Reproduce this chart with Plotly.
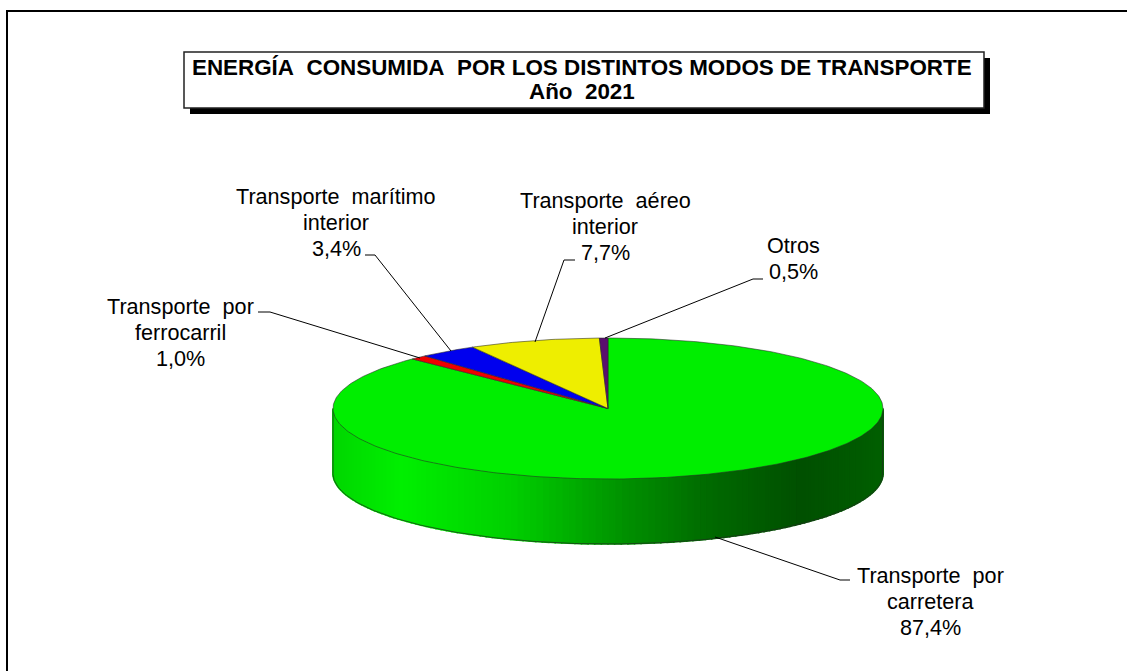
import math
import plotly.graph_objects as go

# ---- data ----
categories = ["Transporte por carretera", "Transporte por ferrocarril",
              "Transporte marítimo interior", "Transporte aéreo interior", "Otros"]
values = [87.4, 1.0, 3.4, 7.7, 0.5]
label_lines = [["Transporte\u00a0 por", "carretera"], ["Transporte\u00a0 por", "ferrocarril"],
               ["Transporte\u00a0 marítimo", "interior"], ["Transporte\u00a0 aéreo", "interior"], ["Otros"]]
title_lines = ["ENERGÍA\u00a0 CONSUMIDA\u00a0 POR LOS DISTINTOS MODOS DE TRANSPORTE", "Año\u00a0 2021"]

# ---- style ----
slice_colors = ["#00EE00", "#EE0000", "#0000EE", "#EEEE00", "#5A0F6E"]
FONT = "Liberation Sans, Arial, sans-serif"
CX, CY, RX, RY, DEPTH = 608, 408.5, 275, 70.5, 65
LABEL_SIZE = 21.6
LINE_STEP = 26.2
# centre x and first-line baseline of each label
label_pos = [(930, 582), (180, 313), (336, 203), (605, 207), (793, 252)]
leaders = [[(850, 580), (840, 580), (715, 537)],
           [(258, 312), (270, 312), (420, 358)],
           [(365, 255), (375, 255), (451, 351)],
           [(575, 260), (564, 260), (535, 342)],
           [(763, 279), (753, 279), (605, 338)]]
side_stops = [(333, (0, 215, 0)), (400, (0, 240, 0)), (510, (0, 208, 0)), (626, (0, 144, 0)),
              (703, (0, 108, 0)), (800, (0, 80, 0)), (883, (0, 96, 0))]


def side_color(x):
    for (x0, c0), (x1, c1) in zip(side_stops, side_stops[1:]):
        if x <= x1:
            t = max(0, (x - x0) / (x1 - x0))
            return "rgb(%d,%d,%d)" % tuple(a + (b - a) * t for a, b in zip(c0, c1))
    return "rgb(%d,%d,%d)" % side_stops[-1][1]


def pt(theta, dz=0.0):
    # theta measured clockwise from the top of the pie
    return CX + RX * math.sin(theta), CY - RY * math.cos(theta) + dz


fig = go.Figure()

# rim of the disc: thin strips round the front half
N = 130
for i in range(N):
    t0 = math.pi / 2 + math.pi * i / N
    t1 = math.pi / 2 + math.pi * (i + 1) / N
    p0, p1 = pt(t0), pt(t1)
    q0, q1 = pt(t0, DEPTH), pt(t1, DEPTH)
    col = side_color((p0[0] + p1[0]) / 2)
    fig.add_trace(go.Scatter(x=[p0[0], p1[0], q1[0], q0[0], p0[0]],
                             y=[p0[1], p1[1], q1[1], q0[1], p0[1]],
                             mode="lines", fill="toself", fillcolor=col,
                             line=dict(color=col, width=1.6), hoverinfo="skip", showlegend=False))

# outer outline of the rim
ts = [math.pi / 2 + math.pi * i / 180 for i in range(181)]
rim = [pt(math.pi / 2)] + [pt(t, DEPTH) for t in ts] + [pt(3 * math.pi / 2)]
fig.add_trace(go.Scatter(x=[p[0] for p in rim], y=[p[1] for p in rim], mode="lines",
                         line=dict(color="rgba(30,50,30,0.75)", width=1), hoverinfo="skip", showlegend=False))

# top face: one wedge per value, clockwise from twelve o'clock
total = sum(values)
cum = 0.0
for name, v, col in zip(categories, values, slice_colors):
    a0 = 2 * math.pi * cum / total
    a1 = 2 * math.pi * (cum + v) / total
    cum += v
    n = max(3, int(v * 4))
    arc = [pt(a0 + (a1 - a0) * k / n) for k in range(n + 1)]
    poly = [(CX, CY)] + arc + [(CX, CY)]
    fig.add_trace(go.Scatter(x=[p[0] for p in poly], y=[p[1] for p in poly], mode="lines",
                             fill="toself", fillcolor=col, name=name,
                             line=dict(color="rgba(40,40,40,0.7)", width=0.8), showlegend=False))

# leader lines
for pts in leaders:
    fig.add_trace(go.Scatter(x=[p[0] for p in pts], y=[p[1] for p in pts], mode="lines",
                             line=dict(color="#000000", width=1), hoverinfo="skip", showlegend=False))

# data labels, one annotation per text line so that the line step can be set
annotations = []
for lines, v, (lx, base) in zip(label_lines, values, label_pos):
    for k, line in enumerate(lines + [f"{v:.1f}%".replace(".", ",")]):
        annotations.append(dict(x=lx, y=base - 7 + k * LINE_STEP, xref="x", yref="y", text=line, showarrow=False,
                                xanchor="center", yanchor="middle", align="center",
                                font=dict(family=FONT, size=LABEL_SIZE, color="#000000")))
for line, y in zip(title_lines, (67, 91)):
    annotations.append(dict(x=582, y=y, xref="x", yref="y", text="<b>" + line + "</b>",
                            showarrow=False, xanchor="center", yanchor="middle", align="center",
                            font=dict(family=FONT, size=22.4, color="#000000")))

shapes = [
    dict(type="line", x0=7, x1=7, y0=10, y1=671, line=dict(color="#000000", width=2)),
    dict(type="line", x0=6, x1=1127, y0=11, y1=11, line=dict(color="#000000", width=2)),
    dict(type="rect", x0=190, x1=990, y0=58, y1=114, fillcolor="#000000", line=dict(width=0)),
    dict(type="rect", x0=184, x1=984, y0=52, y1=108, fillcolor="#FFFFFF",
         line=dict(color="#222222", width=1.5)),
]

fig.update_layout(
    width=1127, height=671, margin=dict(l=0, r=0, t=0, b=0),
    paper_bgcolor="#FFFFFF", plot_bgcolor="#FFFFFF", showlegend=False,
    xaxis=dict(range=[0, 1127], visible=False, fixedrange=True),
    yaxis=dict(range=[671, 0], visible=False, fixedrange=True),
    annotations=annotations, shapes=shapes,
)
fig.write_html("out.html", config=dict(displayModeBar=False),
               post_script="document.body.style.margin='0';document.body.style.overflow='hidden';")
